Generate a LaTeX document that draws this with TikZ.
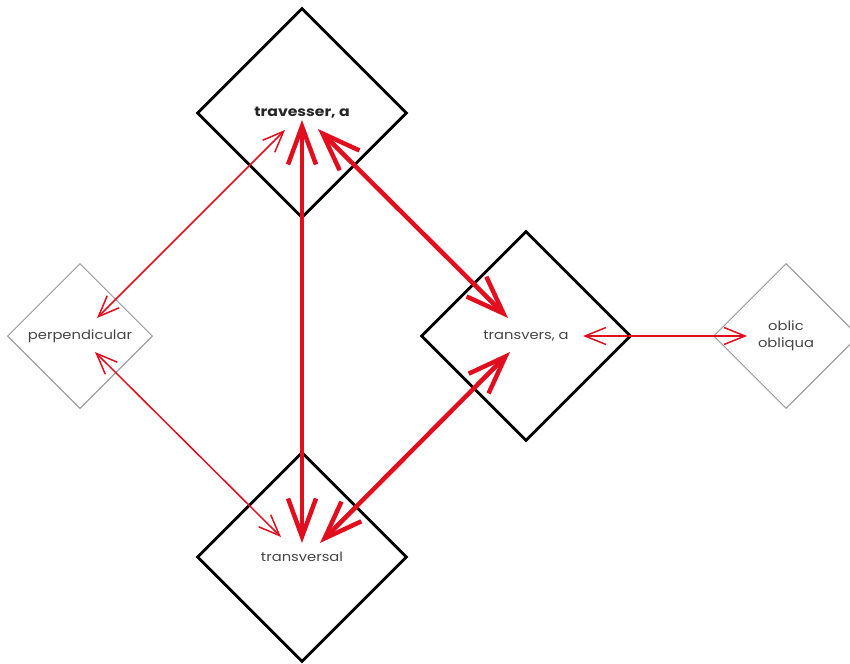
\documentclass[tikz,border=0pt]{standalone}
\usepackage{fontspec}
\setmainfont[FakeStretch=1.15]{Poppins}
\usetikzlibrary{arrows.meta,shapes.geometric,calc}
\definecolor{arrred}{RGB}{226,14,30}
\definecolor{diagray}{RGB}{150,150,150}
\definecolor{txtgray}{RGB}{70,70,70}
\begin{document}
\begin{tikzpicture}[x=1pt,y=-1pt,
  bigdia/.style={diamond, draw=black, line width=2.8pt, minimum width=210pt, minimum height=210pt, inner sep=0pt, aspect=1, text=txtgray, font=\fontsize{12.8}{15}\selectfont},
  smalldia/.style={diamond, draw=diagray, line width=1pt, minimum width=145pt, minimum height=145pt, inner sep=0pt, aspect=1, text=txtgray, font=\fontsize{12.8}{17.5}\selectfont, align=center},
  thinarr/.style={draw=arrred, line width=1.5pt, {Straight Barb[length=21pt,width=17pt]}-{Straight Barb[length=21pt,width=17pt]}},
  thickarr/.style={draw=arrred, line width=4.5pt, {Straight Barb[length=38pt,width=28pt]}-{Straight Barb[length=38pt,width=28pt]}}
]
\useasboundingbox (0,0) rectangle (850,663);
\node[bigdia, font=\fontsize{13.6}{15}\selectfont\bfseries, text=black!85] (trav) at (302,113) {travesser, a};
\node[bigdia] (tsal) at (302,557) {\raisebox{-4.5pt}{transversal}};
\node[bigdia] (tsa) at (526,336) {transvers, a};
\node[smalldia] (perp) at (80,336) {perpendicular};
\node[smalldia] (obl) at (786,336) {oblic\\obliqua};

\draw[thinarr] ($(perp)+(17,-18)$) -- ($(trav)+(-17,17)$);
\draw[thinarr] ($(perp)+(15,16)$) -- ($(tsal)+(-21,-20)$);
\draw[thickarr] ($(trav)+(0,7)$) -- ($(tsal)+(0,-14)$);
\draw[thickarr] ($(trav)+(16,16)$) -- ($(tsa)+(-18,-18)$);
\draw[thickarr] ($(tsa)+(-16,16)$) -- ($(tsal)+(18,-14)$);
\draw[thinarr] ($(tsa)+(57,0)$) -- ($(obl)+(-39,0)$);
\end{tikzpicture}
\end{document}
